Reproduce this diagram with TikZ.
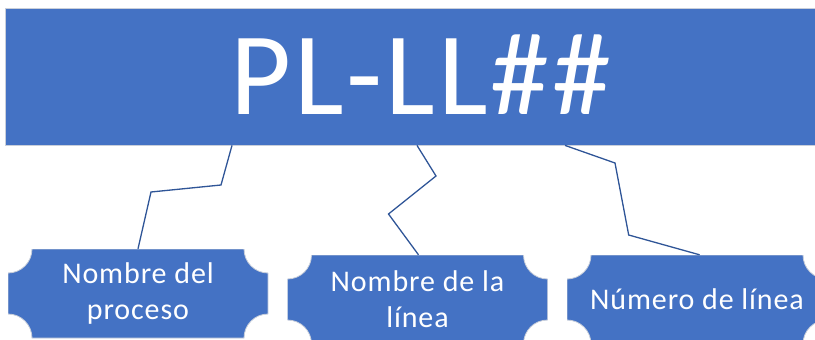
\documentclass[tikz,border=0pt]{standalone}
\usepackage{fontspec}
\setmainfont{Carlito}
\definecolor{boxblue}{HTML}{4472C4}
\definecolor{linkblue}{HTML}{2F5597}
\definecolor{edgegray}{HTML}{C9CFDA}
\begin{document}
\begin{tikzpicture}[x=1pt,y=1pt,
  topbox/.style={fill=boxblue, draw=edgegray, line width=0.8pt, minimum width=832pt, minimum height=137pt, inner sep=0pt, text=white, font=\fontsize{118}{118}\selectfont\addfontfeatures{LetterSpace=2.5}},
  plaque/.style={minimum width=260pt, minimum height=89pt, inner sep=0pt, text=white, align=center, font=\fontsize{30}{36}\selectfont\addfontfeatures{LetterSpace=3},
    path picture={
      \fill[boxblue, draw=edgegray, line width=0.8pt]
        ([xshift=24pt]path picture bounding box.north west) --
        ([xshift=-24pt]path picture bounding box.north east)
          arc[start angle=180,end angle=270,radius=24pt] --
        ([yshift=24pt]path picture bounding box.south east)
          arc[start angle=90,end angle=180,radius=24pt] --
        ([xshift=24pt]path picture bounding box.south west)
          arc[start angle=0,end angle=90,radius=24pt] --
        ([yshift=-24pt]path picture bounding box.north west)
          arc[start angle=270,end angle=360,radius=24pt] -- cycle;
    }},
  link/.style={draw=linkblue, line width=1.3pt, line join=miter}]
\useasboundingbox (0,0) rectangle (815,-340);
\node[topbox] (top) at (421,-76.5) {\raisebox{3pt}{PL-LL\#\#}};
\node[plaque] (b1) at (138,-293.5) {Nombre del\\proceso};
\node[plaque] (b2) at (417.5,-299.5) {Nombre de la\\línea};
\node[plaque] (b3) at (697,-299.5) {Número de línea};
\coordinate (p1) at (221,-185);
\coordinate (q1) at (151,-192);
\coordinate (p2) at (436,-176);
\coordinate (q2) at (388.5,-214);
\coordinate (p3) at (615,-163);
\coordinate (q3) at (628.7,-235);
\draw[link] ([xshift=-189pt]top.south) -- (p1) -- (q1) -- (b1.north);
\draw[link] ([xshift=-4pt]top.south) -- (p2) -- (q2) -- ([xshift=1pt]b2.north);
\draw[link] ([xshift=144pt]top.south) -- (p3) -- (q3) -- ([xshift=2.6pt]b3.north);
\end{tikzpicture}
\end{document}
